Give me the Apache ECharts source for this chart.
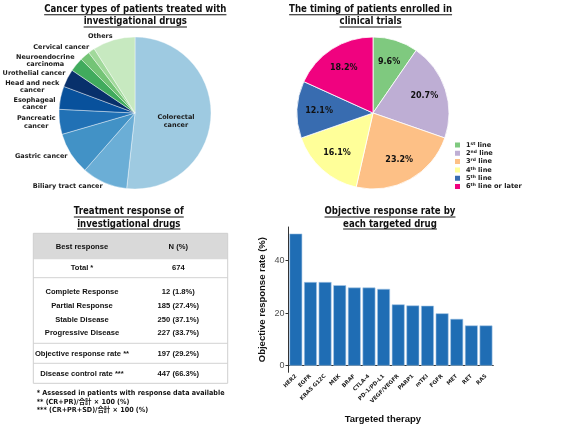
<!DOCTYPE html>
<html><head><meta charset="utf-8">
<script src="https://cdn.jsdelivr.net/npm/echarts@6/dist/echarts.min.js"></script>
<style>html,body{margin:0;padding:0;background:#fff}#c{width:567px;height:430px}</style>
</head><body><div id="c"></div>
<script>
// ---------------- data ----------------
const cancerTypes = ['Colorectal\ncancer','Biliary tract cancer','Gastric cancer','Pancreatic\ncancer','Esophageal\ncancer','Head and neck\ncancer','Urothelial cancer','Neuroendocrine\ncarcinoma','Cervical cancer','Others'];
const cancerShares = [51.7, 9.7, 9.0, 5.3, 4.9, 3.8, 3.0, 2.1, 1.4, 9.0];
const therapyLines = ['1st line','2nd line','3rd line','4th line','5th line','6th line or later'];
const lineShares = [9.6, 20.7, 23.2, 16.1, 12.1, 18.2];
const drugs = ['HER2','EGFR','KRAS G12C','MEK','BRAF','CTLA-4','PD-1/PD-L1','VEGF/VEGFR','PARP1','mTKI','FGFR','MET','RET','RAS'];
const orrValues = [50.2, 31.8, 31.8, 30.6, 29.7, 29.7, 29.2, 23.3, 22.9, 22.8, 19.9, 17.8, 15.3, 15.3];
const orrTicks = [0, 20, 40];
const responseLabels = ['Best response','Total *','Complete Response','Partial Response','Stable Disease','Progressive Disease','Objective response rate **','Disease control rate ***'];
const responseValues = ['N (%)','674','12 (1.8%)','185 (27.4%)','250 (37.1%)','227 (33.7%)','197 (29.2%)','447 (66.3%)'];
const footnotes = ['* Assessed in patients with response data available','** (CR+PR)/合計 × 100 (%)','*** (CR+PR+SD)/合計 × 100 (%)'];
const title1 = ['Cancer types of patients treated with','investigational drugs'];
const title2 = ['The timing of patients enrolled in','clinical trials'];
const title3 = ['Treatment response of','investigational drugs'];
const title4 = ['Objective response rate by','each targeted drug'];

// ---------------- styles ----------------
const cancerColors = ['#9ecae1','#6baed6','#4292c6','#2171b5','#08519c','#08306b','#41ab5d','#74c476','#a1d99b','#c7e9c0'];
const lineColors = ['#7fc97f','#beaed4','#fdc086','#ffff99','#386cb0','#f0027f'];
const DV = '"DejaVu Sans", "Noto Sans CJK JP", sans-serif';
const AR = '"Liberation Sans", Arial, sans-serif';

const ctx = document.createElement('canvas').getContext('2d');
function textW(font, s){ ctx.font = font; return ctx.measureText(s).width; }

const TITLE_SIZE = 10, TITLE_SX = 0.86;
function titleEls(lines, cx, y0){
  const els = [];
  lines.forEach((s, i) => {
    const y = y0 + i * 12.2;
    els.push({type:'text', x:cx, y:y, scaleX:TITLE_SX, silent:true,
      style:{text:s, fontSize:TITLE_SIZE, fontWeight:'bold', fontFamily:DV, fill:'#111', align:'center', verticalAlign:'middle'}});
    const w = textW('bold ' + TITLE_SIZE + 'px ' + DV, s) * TITLE_SX;
    els.push({type:'rect', silent:true, shape:{x:cx - w/2, y:y + 4.6, width:w, height:1}, style:{fill:'#111'}});
  });
  return els;
}

// table layout
const tbl = {x0:33.3, x1:227.7, y0:233.3, y1:383.3, headerBottom:259.3, seps:[277.7, 343.3, 363.3], col1:82, col2:178.3};
const rowY = [246.7, 268.3, 291.7, 306, 319.5, 333.3, 354, 374];
function tableEls(){
  const els = [];
  els.push({type:'rect', silent:true, shape:{x:tbl.x0, y:tbl.y0, width:tbl.x1-tbl.x0, height:tbl.headerBottom-tbl.y0}, style:{fill:'#d9d9d9'}});
  tbl.seps.forEach(y => els.push({type:'line', silent:true, shape:{x1:tbl.x0, y1:y, x2:tbl.x1, y2:y}, style:{stroke:'#d2d2d2', lineWidth:1}}));
  els.push({type:'rect', silent:true, shape:{x:tbl.x0, y:tbl.y0, width:tbl.x1-tbl.x0, height:tbl.y1-tbl.y0}, style:{fill:'none', stroke:'#cfcfcf', lineWidth:1}});
  responseLabels.forEach((s, i) => {
    els.push({type:'text', silent:true, x:tbl.col1, y:rowY[i], style:{text:s, fontSize:7.6, fontWeight:'bold', fontFamily:AR, fill:'#111', align:'center', verticalAlign:'middle'}});
    els.push({type:'text', silent:true, x:tbl.col2, y:rowY[i], style:{text:responseValues[i], fontSize:7.6, fontWeight:'bold', fontFamily:AR, fill:'#111', align:'center', verticalAlign:'middle'}});
  });
  footnotes.forEach((s, i) => {
    els.push({type:'text', silent:true, x:36.7, y:393.3 + i*8.4, scaleX:0.92, style:{text:s, fontSize:7, fontWeight:'bold', fontFamily:DV, fill:'#111', align:'left', verticalAlign:'middle'}});
  });
  return els;
}

const chart = echarts.init(document.getElementById('c'), null, {renderer:'canvas'});

const pie1Data = cancerTypes.map((n, i) => ({
  name:n, value:cancerShares[i], itemStyle:{color:cancerColors[i]},
  label: i === 0 ? {position:'inside', offset:[0, 6]} : undefined
}));
const pie2Data = therapyLines.map((n, i) => ({name:n, value:lineShares[i], itemStyle:{color:lineColors[i]}}));
const pie2LabelData = therapyLines.map((n, i) => ({name:n, value:lineShares[i]}));

const legRich = {
  n:{fontSize:6.6, fontWeight:'bold', fontFamily:DV, color:'#1a1a1a', lineHeight:7, verticalAlign:'middle'},
  sup:{fontSize:4.4, fontWeight:'bold', fontFamily:DV, color:'#1a1a1a', verticalAlign:'top', lineHeight:4}
};

const option = {
  animation:false,
  backgroundColor:'#fff',
  legend:{
    data:therapyLines, orient:'vertical', left:453, top:140.5, padding:0,
    itemWidth:7, itemHeight:7, itemGap:-0.7, icon:'rect', selectedMode:false,
    formatter: n => { const m = n.match(/^(\d)(st|nd|rd|th)(.*)$/); return '{n|' + m[1] + '}{sup|' + m[2] + '}{n|' + m[3] + '}'; },
    textStyle:{fontSize:6.6, fontWeight:'bold', fontFamily:DV, color:'#1a1a1a', lineHeight:7, rich:legRich}
  },
  grid:{left:288.5, top:227, width:204.8, height:145.3, containLabel:false},
  xAxis:{
    type:'category', data:drugs,
    name:'Targeted therapy', nameLocation:'middle', nameGap:42,
    nameTextStyle:{fontSize:9.5, fontWeight:'bold', fontFamily:AR, color:'#111', padding:[0,16,0,0]},
    axisLine:{lineStyle:{color:'#333', width:1}},
    axisTick:{alignWithLabel:true, length:3, lineStyle:{color:'#333'}},
    axisLabel:{rotate:45, fontSize:5.4, fontWeight:'bold', fontFamily:DV, color:'#222', margin:3, interval:0},
    splitLine:{show:false}
  },
  yAxis:{
    type:'value', min:-2.5, max:52.7,
    name:'Objective response rate (%)', nameLocation:'middle', nameGap:21,
    nameTextStyle:{fontSize:9.5, fontWeight:'bold', fontFamily:AR, color:'#111'},
    axisLine:{show:true, lineStyle:{color:'#333', width:1}},
    axisTick:{show:true, length:3, customValues:orrTicks, lineStyle:{color:'#333'}},
    axisLabel:{customValues:orrTicks, fontSize:9, fontFamily:AR, color:'#4d4d4d', margin:4},
    splitLine:{show:false}
  },
  series:[
    {
      type:'pie', center:[135,113], radius:76, startAngle:90, clockwise:true,
      data:pie1Data, avoidLabelOverlap:true, silent:true,
      itemStyle:{borderColor:'#fff', borderWidth:0.4},
      label:{show:true, position:'outside', overflow:'none', distanceToLabelLine:0, fontSize:6.5, fontWeight:'bold', fontFamily:DV, color:'#1a1a1a', lineHeight:7.4},
      labelLine:{show:false, length:4, length2:0},
      labelLayout: p => ({x:p.labelRect.x + p.labelRect.width/2, y:p.labelRect.y + p.labelRect.height/2, align:'center', verticalAlign:'middle'})
    },
    {
      type:'pie', center:[373,113], radius:76, startAngle:90, clockwise:true,
      data:pie2Data, silent:true,
      itemStyle:{borderColor:'#fff', borderWidth:0.8},
      label:{show:false}, labelLine:{show:false}
    },
    {
      type:'pie', center:[373,113], radius:[26,76], startAngle:90, clockwise:true,
      data:pie2LabelData, silent:true, legendHoverLink:false,
      itemStyle:{color:'rgba(0,0,0,0)', borderWidth:0},
      label:{show:true, position:'inside', formatter:p => p.value.toFixed(1) + '%', fontSize:8, fontWeight:'bold', fontFamily:DV, color:'#111'},
      labelLine:{show:false}
    },
    {
      type:'bar', data:orrValues, barWidth:'88%', silent:true,
      itemStyle:{color:'#1f6db4', borderColor:'#a9c9e8', borderWidth:0.6}
    }
  ],
  graphic:{elements:[].concat(
    titleEls(title1, 135.3, 9.6),
    titleEls(title2, 370.6, 9.6),
    titleEls(title3, 128.8, 211.8),
    titleEls(title4, 390, 211.8),
    tableEls()
  )}
};
chart.setOption(option);
</script></body></html>
